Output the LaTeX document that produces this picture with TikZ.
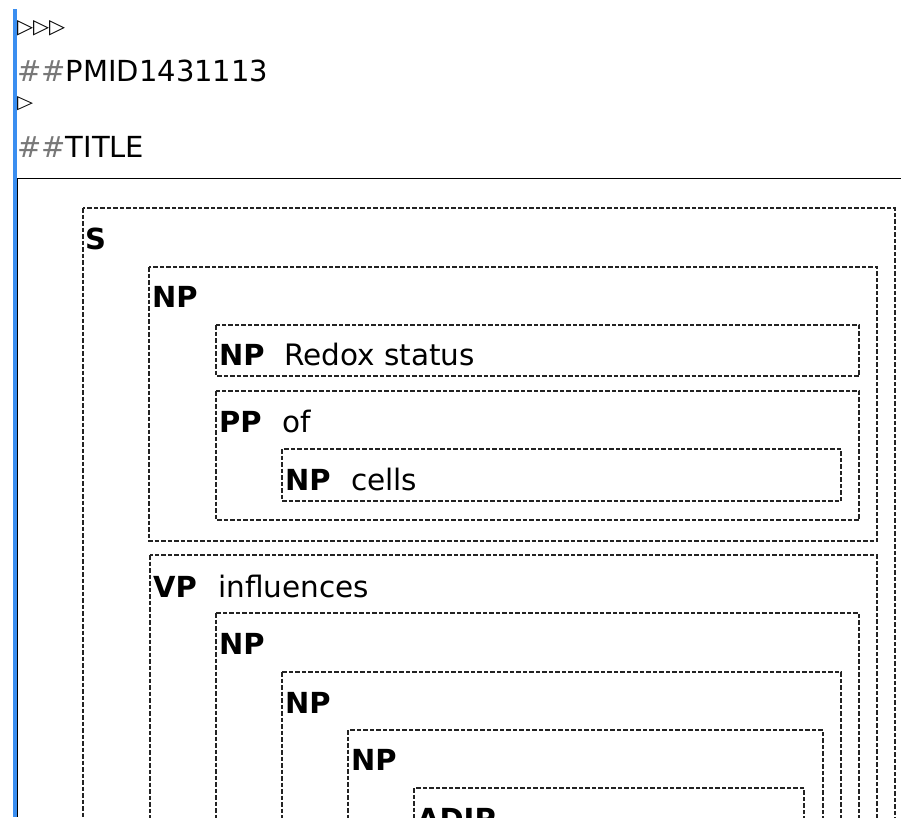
\documentclass[tikz,border=0pt]{standalone}
\usepackage{fontspec}
\setmainfont{DejaVu Sans}
\newfontfamily\symfont{DejaVu Sans}
\definecolor{barblue}{RGB}{58,142,240}
\definecolor{dashgray}{RGB}{35,35,35}
\definecolor{hashgray}{RGB}{120,120,120}
\begin{document}
\begin{tikzpicture}[x=1pt,y=-1pt,
  dbox/.style={draw=dashgray,line width=1.6pt,dash pattern=on 4.5pt off 2pt},
  lbl/.style={anchor=base west,inner sep=0pt,font=\fontsize{29}{34}\selectfont\bfseries},
  wrd/.style={anchor=base west,inner sep=0pt,font=\fontsize{29.5}{34}\selectfont},
  hdr/.style={anchor=base west,inner sep=0pt,font=\fontsize{29}{34}\selectfont}]
\useasboundingbox (0,0) rectangle (901,817);
\clip (0,0) rectangle (901,817);
\fill[white] (0,0) rectangle (901,817);
% left bar and frame
\fill[barblue] (13,9) rectangle (16.5,817);
\draw[line width=1.6pt] (901,178.3) -- (17.5,178.3) -- (17.5,817);
% header
\node[anchor=north west,inner sep=0pt] (tri3) at (17,20) {\resizebox{48pt}{13pt}{\symfont ▷▷▷}};
\node[hdr] (pmid) at (17,81) {\textcolor{hashgray}{\#\#}PMID1431113};
\node[anchor=north west,inner sep=0pt] (tri1) at (17,96) {\resizebox{16pt}{12pt}{\symfont ▷}};
\node[hdr] (title) at (17,157) {\textcolor{hashgray}{\#\#}TITLE};
% boxes
\draw[dbox] (83,208) rectangle (895,840);
\node[lbl] (lS) at (85,249) {S};
\draw[dbox] (149,267) rectangle (877,541);
\node[lbl] (lNPa) at (152,307) {NP};
\draw[dbox] (216,325) rectangle (859,376);
\node[lbl] (lNPb) at (219,365) {NP};
\node[wrd] (wRedox) at (284,365) {Redox status};
\draw[dbox] (216,391) rectangle (859,520);
\node[lbl] (lPP) at (219,432) {PP};
\node[wrd] (wof) at (282,432) {of};
\draw[dbox] (282,449) rectangle (841,501);
\node[lbl] (lNPc) at (285,490) {NP};
\node[wrd] (wcells) at (351,490) {cells};
\draw[dbox] (150,555) rectangle (877,840);
\node[lbl] (lVP) at (153,597) {VP};
\node[wrd] (winf) at (218,597) {influences};
\draw[dbox] (216,613) rectangle (859,840);
\node[lbl] (lNPd) at (219,654) {NP};
\draw[dbox] (282,672) rectangle (841,840);
\node[lbl] (lNPe) at (285,713) {NP};
\draw[dbox] (348,730) rectangle (823,840);
\node[lbl] (lNPf) at (351,770) {NP};
\draw[dbox] (414,788) rectangle (804,840);
\node[lbl] (lADJP) at (417,829) {ADJP};
\end{tikzpicture}
\end{document}
